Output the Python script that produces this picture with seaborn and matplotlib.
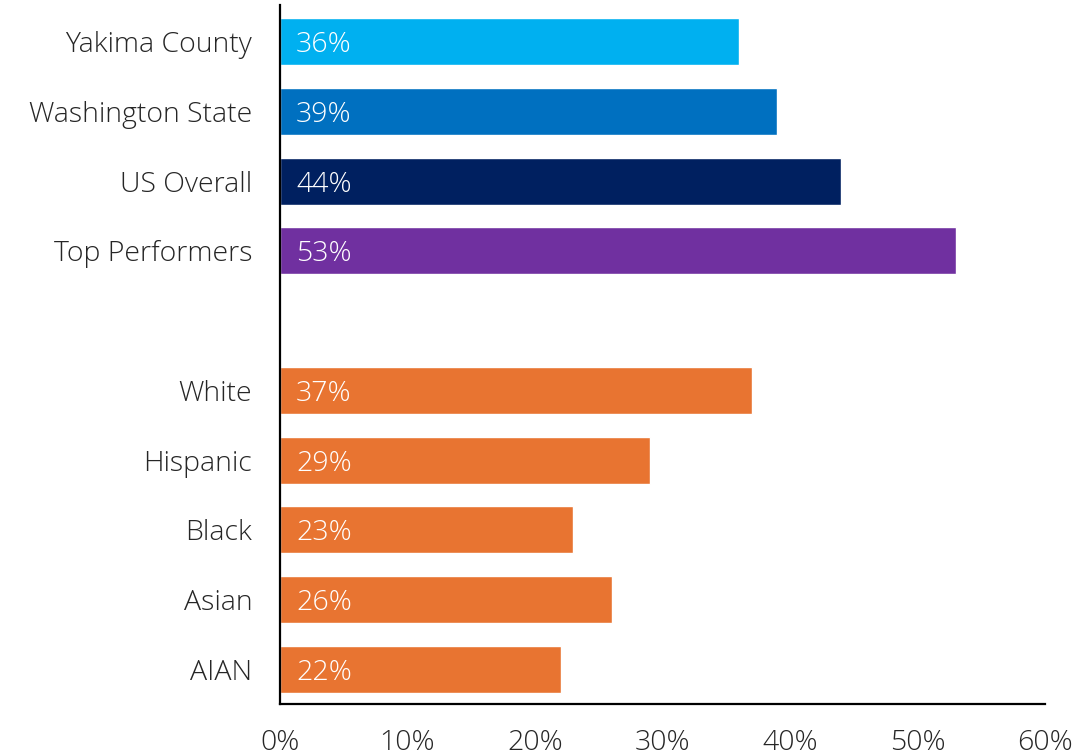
import matplotlib
matplotlib.use("Agg")
import matplotlib.pyplot as plt
import seaborn as sns
import pandas as pd
import numpy as np

categories = ["Yakima County", "Washington State", "US Overall", "Top Performers", "",
              "White", "Hispanic", "Black", "Asian", "AIAN"]
values = [36, 39, 44, 53, np.nan, 37, 29, 23, 26, 22]
colors = ["#00B0F0", "#0070C0", "#002060", "#7030A0", "#FFFFFF",
          "#E87431", "#E87431", "#E87431", "#E87431", "#E87431"]
x_ticks = [0, 10, 20, 30, 40, 50, 60]

sns.set_theme(style="white")
plt.rcParams["font.family"] = ["Open Sans", "DejaVu Sans"]

df = pd.DataFrame({"group": categories, "pct": values})

fig = plt.figure(figsize=(10.79, 7.55), dpi=100)
ax = fig.add_axes([0.2595, 0.0675, 0.709, 0.926])

sns.barplot(data=df, x="pct", y="group", hue="group", order=categories,
            palette=dict(zip(categories, colors)), legend=False,
            width=0.675, saturation=1, ax=ax, orient="h")

text_kw = dict(fontsize=20.5, fontweight="light")
for i, v in enumerate(values):
    if not np.isnan(v):
        ax.text(1.25, i, f"{v:.0f}%", color="white", va="center_baseline",
                ha="left", **text_kw)

ax.set_xlim(0, 60)
ax.set_ylim(len(categories) - 0.5, -0.53)
ax.set_xticks(x_ticks)
ax.set_xticklabels([f"{t}%" for t in x_ticks], color="#262626", **text_kw)
ax.set_yticks(range(len(categories)))
ax.set_yticklabels(categories, color="#262626", **text_kw)
ax.tick_params(axis="x", length=0, pad=18)
ax.tick_params(axis="y", length=0, pad=20)
ax.set_xlabel("")
ax.set_ylabel("")
for side in ["top", "right"]:
    ax.spines[side].set_visible(False)
for side in ["left", "bottom"]:
    ax.spines[side].set_color("black")
    ax.spines[side].set_linewidth(1.6)

fig.savefig("out.png", dpi=100)
